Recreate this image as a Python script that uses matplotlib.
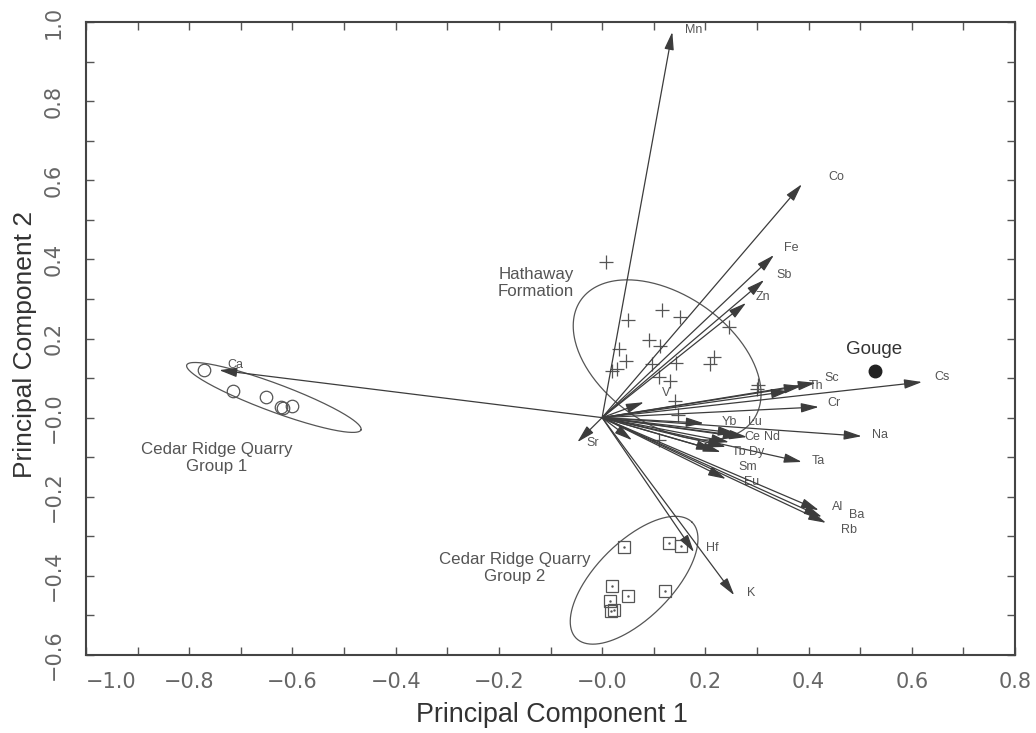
import numpy as np
import matplotlib
matplotlib.use('Agg')
import matplotlib.pyplot as plt
from matplotlib.ticker import FixedLocator, MultipleLocator

# loadings (arrow tips) of each element on PC1 / PC2
element_names = ['Mn', 'Co', 'Fe', 'Sb', 'Zn', 'Sc', 'Th', 'Cs', 'Cr', 'Na', 'Ta',
                 'Yb', 'Lu', 'Ce', 'Nd', 'Dy', 'Tb', 'Sm', 'Eu', 'Al', 'Ba', 'Rb',
                 'Hf', 'K', 'V', 'Sr', 'Ca', '', '', '']
pc1_loading = [0.136, 0.387, 0.333, 0.314, 0.279, 0.414, 0.387, 0.620, 0.420, 0.503, 0.387,
               0.197, 0.259, 0.269, 0.281, 0.246, 0.240, 0.230, 0.240, 0.420, 0.426, 0.434,
               0.178, 0.256, 0.081, -0.048, -0.742, 0.058, 0.362, 0.217]
pc2_loading = [0.975, 0.590, 0.411, 0.348, 0.290, 0.088, 0.080, 0.090, 0.027, -0.047, -0.112,
               -0.014, -0.039, -0.049, -0.049, -0.062, -0.074, -0.087, -0.155, -0.234, -0.251, -0.266,
               -0.340, -0.449, 0.039, -0.062, 0.120, -0.057, 0.067, -0.082]

# sample scores
hathaway_pc1 = [0.007, 0.051, 0.117, 0.150, 0.090, 0.112, 0.033, 0.046, 0.020, 0.028, 0.097,
                0.143, 0.217, 0.210, 0.245, 0.110, 0.131, 0.303, 0.301, 0.141, 0.148, 0.110]
hathaway_pc2 = [0.393, 0.248, 0.272, 0.254, 0.196, 0.182, 0.173, 0.144, 0.119, 0.122, 0.135,
                0.139, 0.154, 0.135, 0.228, 0.103, 0.093, 0.082, 0.072, 0.043, 0.007, -0.057]
group1_pc1 = [-0.771, -0.716, -0.651, -0.623, -0.618, -0.600]
group1_pc2 = [0.120, 0.067, 0.052, 0.027, 0.024, 0.029]
group2_pc1 = [0.043, 0.130, 0.153, 0.019, 0.050, 0.122, 0.015, 0.017, 0.023]
group2_pc2 = [-0.327, -0.317, -0.325, -0.426, -0.451, -0.438, -0.464, -0.489, -0.486]
gouge_pc1 = [0.529]
gouge_pc2 = [0.119]

# group ellipses: centre, first and second semi-axis vectors (data units)
hathaway_ellipse = ((0.126, 0.146), (0.1665, -0.1524), (-0.0734, -0.1330))
group1_ellipse = ((-0.636, 0.051), (0.1688, -0.0819), (-0.00945, -0.0332))
group2_ellipse = ((0.062, -0.411), (0.1123, 0.1466), (0.052, -0.068))

x_ticks = [-1.0, -0.8, -0.6, -0.4, -0.2, 0.0, 0.2, 0.4, 0.6, 0.8]
x_tick_labels = ['\u22121.0', '\u22120.8', '\u22120.6', '\u22120.4', '\u22120.2', '\u22120.0',
                 '0.2', '0.4', '0.6', '0.8']
y_ticks = [-0.6, -0.4, -0.2, 0.0, 0.2, 0.4, 0.6, 0.8, 1.0]
y_tick_labels = ['\u22120.6', '\u22120.4', '\u22120.2', '\u22120.0', '0.2', '0.4', '0.6', '0.8', '1.0']

# label offsets from arrow tips, in points (layout only)
label_offsets = [(9.4, 1.2), (19.4, 5), (7.2, 5), (8.6, 3.6), (7.2, 4.3), (6.5, 3.2), (5, -0.3),
                 (8.6, 3.6), (5.8, 2.9), (7.2, 0.7), (7.2, 0.7),
                 (13, 0.7), (8.6, 7.9), (2.2, 0), (12.2, 0), (14.4, -7.2), (4.3, -3.6),
                 (13, -10.8), (13, -2.2),
                 (9.4, 2.2), (19.4, 1.4), (10.8, -5.4),
                 (8.6, 2.9), (9.4, 1.4), (13, 6.5), (6.5, -0.7), (5.8, 3.6),
                 (0, 0), (0, 0), (0, 0)]

arrow_color = '#3c3c3c'
mark_color = '#555555'
text_font = ['Liberation Sans', 'DejaVu Sans']

fig = plt.figure(figsize=(10.36, 7.33), dpi=100)
ax = fig.add_axes([86/1036, 1-655/733, (1015-86)/1036, (655-22)/733])
ax.set_xlim(-1.0, 0.8)
ax.set_ylim(-0.6, 1.0)


def draw_ellipse(ell):
    (cx, cy), (ux, uy), (vx, vy) = ell
    t = np.linspace(0, 2*np.pi, 300)
    ax.plot(cx + ux*np.cos(t) + vx*np.sin(t), cy + uy*np.cos(t) + vy*np.sin(t),
            color=mark_color, lw=0.9)


for ell in (hathaway_ellipse, group1_ellipse, group2_ellipse):
    draw_ellipse(ell)

for name, x, y, (dx, dy) in zip(element_names, pc1_loading, pc2_loading, label_offsets):
    ax.annotate('', xy=(x, y), xytext=(0, 0),
                arrowprops=dict(arrowstyle='-|>,head_length=0.9,head_width=0.24',
                                color=arrow_color, lw=0.9, shrinkA=0, shrinkB=0,
                                mutation_scale=12))
    if name:
        ax.annotate(name, xy=(x, y), xytext=(dx, dy), textcoords='offset points',
                    ha='left', va='center', fontsize=9, color=mark_color, family=text_font)

ax.plot(hathaway_pc1, hathaway_pc2, '+', ms=10, mew=0.9, color=mark_color)
ax.plot(group1_pc1, group1_pc2, 'o', ms=9, mfc='none', mew=0.9, mec=mark_color)
ax.plot(group2_pc1, group2_pc2, 's', ms=8, mfc='none', mew=0.9, mec=mark_color)
ax.plot(group2_pc1, group2_pc2, '.', ms=1.5, color=mark_color)
ax.plot(gouge_pc1, gouge_pc2, 'o', ms=9, color='#222222')

ax.text(-0.128, 0.340, 'Hathaway\nFormation', ha='center', va='center', fontsize=12.2,
        color=mark_color, family=text_font, linespacing=1.15)
ax.text(-0.746, -0.103, 'Cedar Ridge Quarry\nGroup 1', ha='center', va='center', fontsize=12.2,
        color=mark_color, family=text_font, linespacing=1.15)
ax.text(-0.170, -0.381, 'Cedar Ridge Quarry\nGroup 2', ha='center', va='center', fontsize=12.2,
        color=mark_color, family=text_font, linespacing=1.15)
ax.text(0.527, 0.171, 'Gouge', ha='center', va='center', fontsize=13.5,
        color='#333333', family=text_font)

ax.xaxis.set_major_locator(FixedLocator(x_ticks))
ax.set_xticklabels(x_tick_labels)
ax.yaxis.set_major_locator(FixedLocator(y_ticks))
ax.set_yticklabels(y_tick_labels)
ax.xaxis.set_minor_locator(MultipleLocator(0.1))
ax.yaxis.set_minor_locator(MultipleLocator(0.1))
ax.tick_params(which='both', direction='in', top=True, right=True, length=6,
               width=1, color='#555555')
ax.tick_params(axis='x', which='major', pad=12, labelsize=15, labelcolor='#666666')
ax.tick_params(axis='y', which='major', pad=16, labelsize=15, labelcolor='#666666',
               labelrotation=90)
for lab in ax.get_yticklabels():
    lab.set_va('center')
ax.get_xticklabels()[0].set_ha('left')

for sp in ax.spines.values():
    sp.set_color('#444444')
    sp.set_linewidth(1.5)

ax.set_xlabel('Principal Component 1', fontsize=19.4, color='#333333', family=text_font)
ax.set_ylabel('Principal Component 2', fontsize=19, color='#333333', family=text_font)
ax.xaxis.set_label_coords(0.5016, -0.106)
ax.xaxis.label.set_va('baseline')
ax.yaxis.set_label_coords(-0.058, 0.49)
ax.yaxis.label.set_va('baseline')

fig.savefig('out.png', dpi=100)
